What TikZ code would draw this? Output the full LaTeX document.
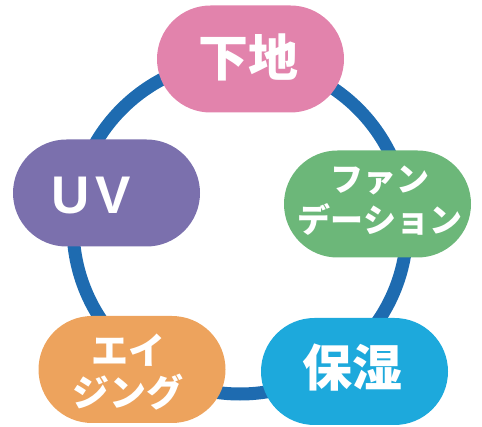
\documentclass[tikz,border=0pt]{standalone}
\usepackage{fontspec}
\setmainfont{Liberation Sans}
\newfontfamily\jpfont{Noto Sans CJK JP}
\definecolor{ringblue}{HTML}{1E6BB0}
\definecolor{cpink}{HTML}{E283AC}
\definecolor{cgreen}{HTML}{6CB779}
\definecolor{cblue}{HTML}{1DA9DC}
\definecolor{corange}{HTML}{EDA35D}
\definecolor{cpurple}{HTML}{7B70AD}
\begin{document}
\begin{tikzpicture}[x=1pt,y=-1pt,
  ring/.style={draw=ringblue, line width=13pt},
  pill/.style={rectangle, rounded corners=53.5pt, minimum width=187pt, minimum height=107pt, inner sep=0pt, draw=none},
  lbl/.style={text=white, align=center, inner sep=0pt}]
\useasboundingbox (0,0) rectangle (482,427);
\coordinate (c) at (240,227);
\draw[ring] (c) circle (167pt);
\node[pill, fill=cpink]   (shitaji) at (250.5,59)  {};
\node[pill, fill=cgreen]  (fande)   at (377.5,204) {};
\node[pill, fill=cblue]   (hoshitsu) at (354.5,371.5) {};
\node[pill, fill=corange] (aging)   at (132,369.5) {};
\node[pill, fill=cpurple] (uv)      at (106.5,193) {};
\node[lbl, font=\jpfont\bfseries\fontsize{50}{55}\selectfont] (shitajiT) at (248,57) {下地};
\node[lbl, font=\jpfont\bfseries\fontsize{33}{41}\selectfont] (fandeT) at (380,201) {ファン\\デーション};
\node[lbl, font=\jpfont\bfseries\fontsize{50}{55}\selectfont] (hoshitsuT) at (352,368) {保湿};
\node[lbl, font=\jpfont\bfseries\fontsize{37}{42}\selectfont] (agingT) at (128,372) {エイ\\ジング};
\node[lbl, font=\bfseries\fontsize{53}{58}\selectfont] (uvT) at (91,196) {U\hspace{6pt}V};
\end{tikzpicture}
\end{document}
